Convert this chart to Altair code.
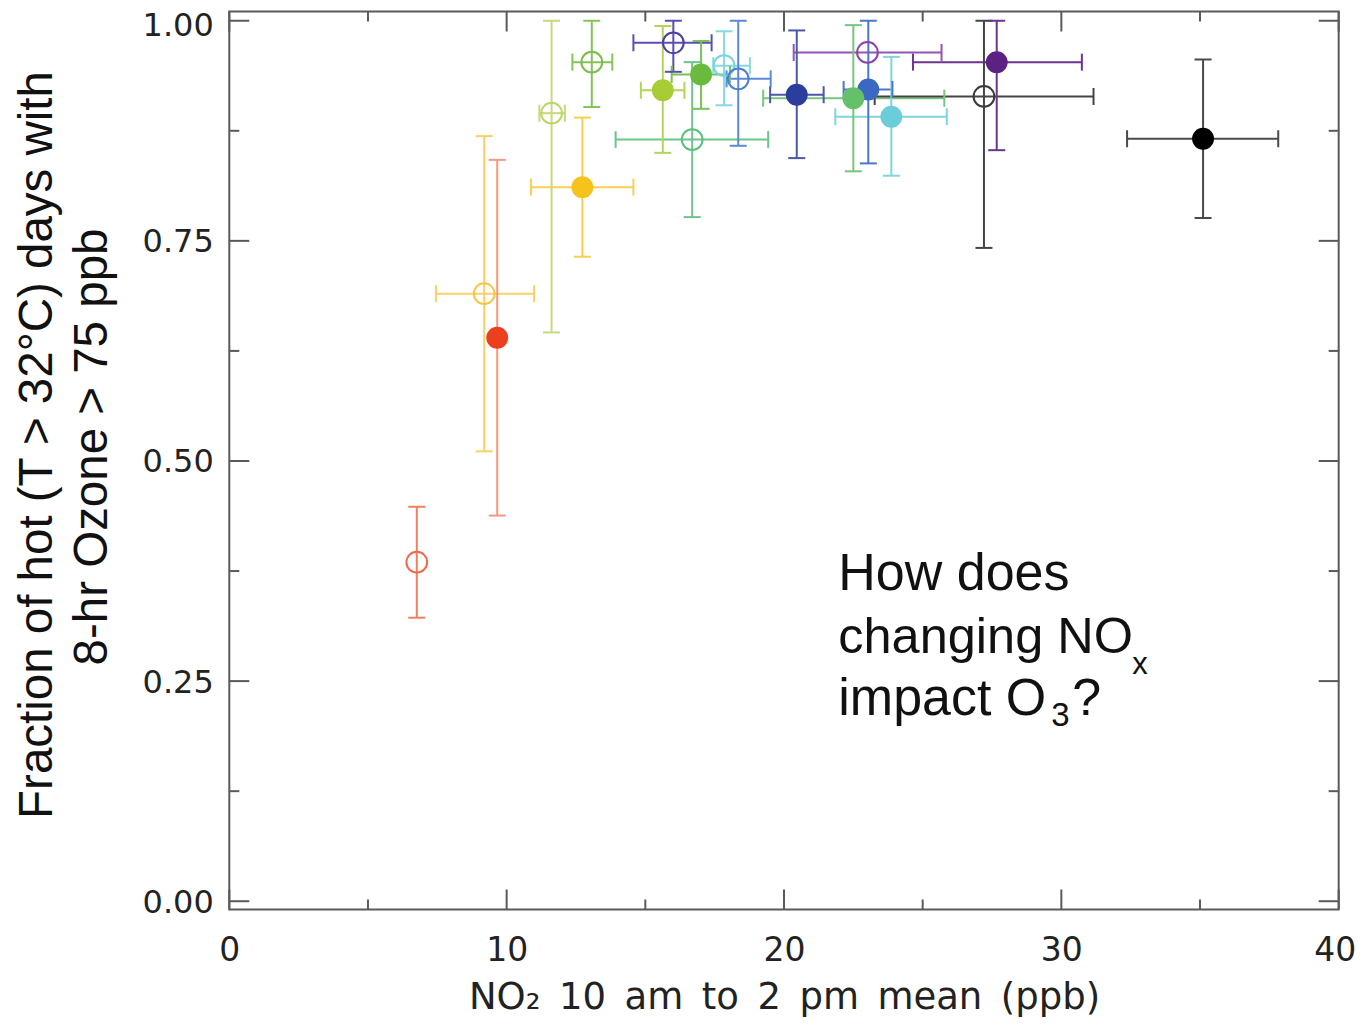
import altair as alt
import pandas as pd

# ---- data ----
no2 = [6.76, 9.66, 9.19, 11.62, 13.07, 12.73, 15.63, 16.69, 17.01, 16.01,
       17.84, 18.35, 20.46, 23.01, 23.04, 22.50, 23.87, 27.21, 27.67, 35.11]
no2_lo = [6.76, 9.66, 7.45, 11.18, 12.37, 10.88, 14.84, 13.93, 15.95, 14.57,
          17.45, 17.93, 19.50, 20.35, 22.15, 19.25, 21.85, 23.27, 24.65, 32.37]
no2_hi = [6.76, 9.66, 10.99, 12.10, 13.81, 14.57, 16.41, 19.43, 18.05, 17.39,
          18.77, 19.52, 21.43, 25.68, 23.91, 25.78, 25.87, 31.16, 30.74, 37.82]
frac = [0.385, 0.640, 0.690, 0.895, 0.953, 0.811, 0.921, 0.865, 0.939, 0.975,
        0.949, 0.934, 0.916, 0.964, 0.922, 0.912, 0.891, 0.914, 0.953, 0.866]
frac_lo = [0.322, 0.438, 0.511, 0.646, 0.902, 0.732, 0.850, 0.777, 0.900, 0.942,
           0.904, 0.858, 0.844, 0.964, 0.838, 0.829, 0.824, 0.742, 0.853, 0.776]
frac_hi = [0.448, 0.842, 0.869, 1.000, 1.000, 0.890, 0.994, 0.953, 0.977, 1.000,
           0.988, 1.000, 0.989, 0.964, 1.000, 0.995, 0.959, 1.000, 1.000, 0.956]
filled = [False, True, False, False, False, True, True, False, True, False,
          False, False, True, False, True, True, True, False, True, True]
pt_colors = ["#f06a4a", "#eb3f1e", "#f7c74a", "#bcd666", "#7abd4a", "#f6c21c",
             "#a7cc35", "#5fbf7f", "#68bb3e", "#4b40a8", "#7ad3e3", "#4c80d2",
             "#2b3d9d", "#8c42aa", "#3b68c2", "#66c06a", "#6bcdd9", "#3a3a3a",
             "#5c2183", "#000000"]
bar_colors = ["#f27e62", "#f5987f", "#f9d166", "#c4da7c", "#86c25a", "#f8cf52",
              "#b4d45a", "#6fc48c", "#78c156", "#5a4fb0", "#86d8e6", "#5b8ad6",
              "#4a58aa", "#9354b2", "#4c76c8", "#78c67c", "#7fd4de", "#444444",
              "#6c3490", "#4a4a4a"]

x_tick_labels = [0, 10, 20, 30, 40]
x_minor = [5, 15, 25, 35]
y_tick_labels = [0.0, 0.25, 0.5, 0.75, 1.0]
y_minor = [0.125, 0.375, 0.625, 0.875]

x_title_words = ["NO\u2082", "10", "am", "to", "2", "pm", "mean", "(ppb)"]
ytitle_lines = ["Fraction of hot (T > 32\u00b0C)  days with", "8-hr Ozone > 75 ppb"]
note_lines = ["How does", "changing NO", "impact O"]
note_subs = ["x", "3"]
note_tail = ["?"]

# ---- layout ----
W, H = 1109.4, 898
MAJ, MIN = 20, 10
FRAME = "#5a5a5a"

xs = alt.Scale(domain=[0, 40], nice=False, zero=False)
ys = alt.Scale(domain=[-0.0094, 1.0105], nice=False, zero=False)

xaxis = alt.Axis(values=x_tick_labels, format="d", grid=False, domain=False, ticks=False,
                 labelFont="DejaVu Sans", labelFontSize=33, labelColor="#222222",
                 labelPadding=25, labelFlush=False, labelOverlap=False,
                 labelOffset={"condition": {"test": "datum.value == 40", "value": -4}, "value": 0},
                 title="\u2002".join(x_title_words), titleFont="DejaVu Sans",
                 titleFontSize=37, titleFontWeight="normal", titleColor="#222222",
                 titleBaseline="alphabetic", titleY=99)
yaxis = alt.Axis(values=y_tick_labels, format=".2f", grid=False, domain=False, ticks=False,
                 labelFont="DejaVu Sans", labelFontSize=32, labelColor="#222222",
                 labelPadding=16, labelFlush=False, labelOverlap=False,
                 labelOffset={"condition": {"test": "datum.value == 1", "value": 4.5}, "value": 1},
                 title="")


def X(f):
    return alt.X(f + ":Q", scale=xs, axis=xaxis)


def Y(f):
    return alt.Y(f + ":Q", scale=ys, axis=yaxis)


df = pd.DataFrame(dict(x=no2, xlo=no2_lo, xhi=no2_hi, y=frac, ylo=frac_lo,
                       yhi=frac_hi, filled=filled, pc=pt_colors, bc=bar_colors))
xerr = df[df.xhi > df.xlo]
yerr = df[df.yhi > df.ylo]

xcap_df = pd.concat([
    xerr[["xlo", "y", "bc"]].rename(columns={"xlo": "cx"}),
    xerr[["xhi", "y", "bc"]].rename(columns={"xhi": "cx"}),
])
ycap_df = pd.concat([
    yerr[["x", "ylo", "bc"]].rename(columns={"ylo": "cy"}),
    yerr[["x", "yhi", "bc"]].rename(columns={"yhi": "cy"}),
])

bar_col = alt.Color("bc:N", scale=None)
pt_col = alt.Color("pc:N", scale=None)

xbars = alt.Chart(xerr).mark_rule(strokeWidth=2).encode(
    x=X("xlo"), x2="xhi", y=Y("y"), color=bar_col)
ybars = alt.Chart(yerr).mark_rule(strokeWidth=2).encode(
    x=X("x"), y=Y("ylo"), y2="yhi", color=bar_col)
xcaps = alt.Chart(xcap_df).mark_tick(orient="vertical", size=17, thickness=2, opacity=1).encode(
    x=X("cx"), y=Y("y"), color=bar_col)
ycaps = alt.Chart(ycap_df).mark_tick(orient="horizontal", size=17, thickness=2, opacity=1).encode(
    x=X("x"), y=Y("cy"), color=bar_col)

open_pts = alt.Chart(df[~df.filled]).mark_point(
    shape="circle", filled=False, strokeWidth=2, size=430, opacity=1).encode(
    x=X("x"), y=Y("y"), color=pt_col)
fill_pts = alt.Chart(df[df.filled]).mark_circle(size=480, opacity=1).encode(
    x=X("x"), y=Y("y"), color=pt_col)


# inward ticks on all four sides
def xticks(vals, top, length):
    d = pd.DataFrame({"v": vals})
    if top:
        return alt.Chart(d).mark_rule(color=FRAME, strokeWidth=2).encode(
            x=X("v"), y=alt.value(0), y2=alt.value(length))
    return alt.Chart(d).mark_rule(color=FRAME, strokeWidth=2).encode(
        x=X("v"), y=alt.value(H), y2=alt.value(H - length))


def yticks(vals, right, length):
    d = pd.DataFrame({"v": vals})
    if right:
        return alt.Chart(d).mark_rule(color=FRAME, strokeWidth=2).encode(
            y=Y("v"), x=alt.value(W), x2=alt.value(W - length))
    return alt.Chart(d).mark_rule(color=FRAME, strokeWidth=2).encode(
        y=Y("v"), x=alt.value(0), x2=alt.value(length))


tick_layers = [
    xticks(x_tick_labels, False, MAJ), xticks(x_minor, False, MIN),
    xticks(x_tick_labels, True, MAJ), xticks(x_minor, True, MIN),
    yticks(y_tick_labels, False, MAJ), yticks(y_minor, False, MIN),
    yticks(y_tick_labels, True, MAJ), yticks(y_minor, True, MIN),
]


def text_layer(txt, px, py, size, angle=0, align="left", font="Liberation Sans"):
    kw = dict(font=font, fontSize=size, align=align, baseline="alphabetic", color="#111111")
    if angle:
        kw["angle"] = angle
    return alt.Chart(pd.DataFrame({"t": [txt]})).mark_text(**kw).encode(
        text="t:N", x=alt.value(px), y=alt.value(py))


ytitle = [
    text_layer(ytitle_lines[0], -177, 433.5, 47.5, angle=270, align="center"),
    text_layer(ytitle_lines[1], -122, 435.5, 47.5, angle=270, align="center"),
]

note = [
    text_layer(note_lines[0], 609, 578.5, 52),
    text_layer(note_lines[1], 609, 641.5, 50.5),
    text_layer(note_lines[2], 609, 703.5, 52),
    text_layer(note_subs[0], 903, 662.5, 31),
    text_layer(note_subs[1], 822, 715, 33),
    text_layer(note_tail[0], 843, 703.5, 52),
]

chart = alt.layer(
    xbars, ybars, xcaps, ycaps, open_pts, fill_pts, *tick_layers, *ytitle, *note
).properties(
    width=W, height=H,
    autosize=alt.AutoSizeParams(type="none"),
    padding={"left": 221.3, "top": 3.5, "right": 16, "bottom": 109},
).configure_view(stroke=FRAME, strokeWidth=2)

chart.save("out.html", embed_options={"renderer": "svg", "actions": False})
